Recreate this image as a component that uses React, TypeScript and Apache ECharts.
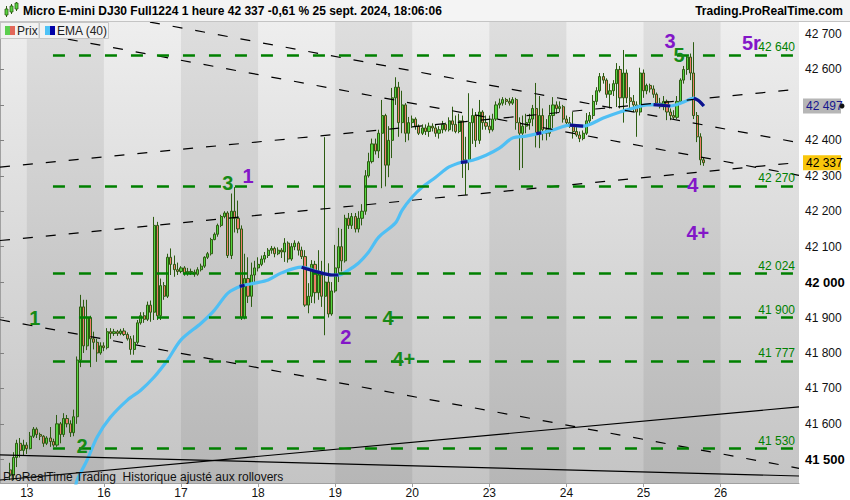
import React, { useEffect, useRef } from 'react';
import * as echarts from 'echarts';

const FONT = "'Liberation Sans', Arial, Helvetica, sans-serif";

// x axis: one unit = one hourly bar (23 bars per trading day)
const dayLabels = ['13', '16', '17', '18', '19', '20', '23', '24', '25', '26'];
const dayStarts = [8, 31, 54, 77, 100, 123, 146, 169, 192, 215];
const shadedDays = [[8, 31], [54, 77], [100, 123], [146, 169], [192, 215]];
const X_MIN = 0;
const X_MAX = 238.4;

// y axis (right)
const Y_MIN = 41433;
const Y_MAX = 42734;
const yTicks = [41500, 41600, 41700, 41800, 41900, 42000, 42100, 42200, 42300, 42400, 42500, 42600, 42700];
const boldTicks = [41500, 42000];

// candles: [bar, open, close, low, high]
const candles: number[][] = [
  [3, 41470, 41455, 41441, 41490], [4, 41455, 41505, 41441, 41520], [5, 41505, 41545, 41478, 41555],
  [6, 41545, 41525, 41505, 41560], [7, 41525, 41540, 41510, 41555], [8, 41540, 41530, 41515, 41548],
  [9, 41530, 41565, 41528, 41577], [10, 41565, 41585, 41560, 41591], [11, 41585, 41570, 41560, 41590],
  [12, 41570, 41565, 41554, 41575], [13, 41565, 41545, 41535, 41568], [14, 41545, 41560, 41540, 41565],
  [15, 41560, 41550, 41535, 41591], [16, 41550, 41540, 41535, 41558], [17, 41540, 41600, 41535, 41625],
  [18, 41600, 41570, 41545, 41605], [19, 41570, 41615, 41563, 41630], [20, 41615, 41600, 41590, 41625],
  [21, 41600, 41575, 41563, 41610], [22, 41575, 41620, 41565, 41640], [23, 41620, 41780, 41600, 41790],
  [24, 41780, 41930, 41760, 41964], [25, 41930, 41820, 41800, 41950], [26, 41820, 41900, 41808, 41950],
  [27, 41900, 41840, 41760, 41905], [28, 41840, 41830, 41810, 41860], [29, 41830, 41800, 41775, 41840],
  [30, 41800, 41820, 41795, 41830], [31, 41820, 41815, 41805, 41830], [32, 41815, 41860, 41810, 41870],
  [33, 41860, 41855, 41840, 41870], [34, 41855, 41860, 41848, 41868], [35, 41860, 41855, 41848, 41865],
  [36, 41855, 41862, 41850, 41868], [37, 41862, 41852, 41848, 41870], [38, 41852, 41840, 41835, 41858],
  [39, 41840, 41810, 41795, 41848], [40, 41810, 41830, 41795, 41850], [41, 41830, 41885, 41825, 41893],
  [42, 41885, 41905, 41880, 41915], [43, 41905, 41895, 41885, 41915], [44, 41895, 41935, 41890, 41945],
  [45, 41935, 41915, 41888, 41948], [46, 41915, 42160, 41893, 42184], [47, 42160, 41905, 41893, 42170],
  [48, 41905, 41990, 41893, 42010], [49, 41990, 41960, 41950, 42000], [50, 41960, 42070, 41955, 42080],
  [51, 42070, 42050, 42020, 42095], [52, 42050, 42035, 42015, 42075], [53, 42035, 42030, 42020, 42055],
  [54, 42030, 42040, 42025, 42045], [55, 42040, 42025, 42018, 42045], [56, 42025, 42030, 42018, 42040],
  [57, 42030, 42028, 42020, 42038], [58, 42028, 42022, 42015, 42035], [59, 42022, 42035, 42018, 42042],
  [60, 42035, 42045, 42030, 42052], [61, 42045, 42070, 42040, 42073], [62, 42070, 42080, 42065, 42085],
  [63, 42080, 42120, 42075, 42125], [64, 42120, 42135, 42118, 42140], [65, 42135, 42160, 42128, 42165],
  [66, 42160, 42185, 42155, 42190], [67, 42185, 42195, 42180, 42200], [68, 42195, 42075, 42068, 42200],
  [69, 42075, 42200, 42065, 42250], [70, 42200, 42180, 42140, 42268], [71, 42180, 42150, 42138, 42230],
  [72, 42150, 41900, 41893, 42160], [73, 41900, 42010, 41895, 42080], [74, 42010, 41960, 41941, 42070],
  [75, 41960, 42020, 41930, 42055], [76, 42020, 42040, 42000, 42060], [77, 42040, 42050, 42030, 42070],
  [78, 42050, 42065, 42045, 42075], [79, 42065, 42075, 42055, 42085], [80, 42075, 42090, 42068, 42096],
  [81, 42090, 42095, 42080, 42102], [82, 42095, 42080, 42070, 42100], [83, 42080, 42090, 42076, 42098],
  [84, 42090, 42085, 42068, 42096], [85, 42085, 42110, 42057, 42124], [86, 42110, 42065, 42055, 42115],
  [87, 42065, 42100, 42060, 42110], [88, 42100, 42110, 42090, 42118], [89, 42110, 42090, 42075, 42115],
  [90, 42090, 42072, 42065, 42100], [91, 42072, 41935, 41930, 42090], [92, 41935, 41960, 41912, 41997],
  [93, 41960, 42050, 41941, 42062], [94, 42050, 41970, 41940, 42060], [95, 41970, 42020, 41950, 42090],
  [96, 42020, 41960, 41930, 42060], [97, 41960, 42000, 41850, 42409], [98, 42000, 41910, 41900, 42053],
  [99, 41910, 41975, 41905, 42000], [100, 41975, 42040, 41970, 42105], [101, 42040, 42100, 42000, 42153],
  [102, 42100, 42060, 42030, 42150], [103, 42060, 42180, 42055, 42190], [104, 42180, 42160, 42150, 42195],
  [105, 42160, 42185, 42150, 42195], [106, 42185, 42150, 42140, 42195], [107, 42150, 42180, 42140, 42200],
  [108, 42180, 42200, 42160, 42220], [109, 42200, 42300, 42190, 42316], [110, 42300, 42340, 42295, 42365],
  [111, 42340, 42390, 42335, 42405], [112, 42390, 42370, 42360, 42405], [113, 42370, 42420, 42350, 42430],
  [114, 42420, 42470, 42265, 42514], [115, 42470, 42330, 42270, 42475], [116, 42330, 42400, 42296, 42440],
  [117, 42400, 42520, 42350, 42548], [118, 42520, 42550, 42500, 42578], [119, 42550, 42450, 42410, 42565],
  [120, 42450, 42500, 42420, 42540], [121, 42500, 42420, 42395, 42505], [122, 42420, 42450, 42400, 42466],
  [123, 42450, 42460, 42435, 42470], [124, 42460, 42440, 42430, 42465], [125, 42440, 42420, 42415, 42445],
  [126, 42420, 42435, 42415, 42445], [127, 42435, 42425, 42415, 42445], [128, 42425, 42440, 42410, 42450],
  [129, 42440, 42435, 42425, 42448], [130, 42435, 42420, 42410, 42445], [131, 42420, 42430, 42405, 42440],
  [132, 42430, 42445, 42420, 42455], [133, 42445, 42430, 42425, 42450], [134, 42430, 42455, 42425, 42465],
  [135, 42455, 42445, 42425, 42495], [136, 42445, 42425, 42420, 42470], [137, 42425, 42455, 42420, 42475],
  [138, 42455, 42336, 42294, 42470], [139, 42336, 42345, 42246, 42410], [140, 42345, 42450, 42316, 42533],
  [141, 42450, 42470, 42390, 42490], [142, 42470, 42400, 42381, 42480], [143, 42400, 42480, 42390, 42514],
  [144, 42480, 42450, 42430, 42485], [145, 42450, 42440, 42430, 42470], [146, 42440, 42430, 42420, 42470],
  [147, 42430, 42460, 42425, 42475], [148, 42460, 42500, 42455, 42510], [149, 42500, 42505, 42490, 42518],
  [150, 42505, 42515, 42498, 42522], [151, 42515, 42510, 42500, 42520], [152, 42510, 42505, 42498, 42520],
  [153, 42505, 42515, 42500, 42522], [154, 42515, 42450, 42430, 42520], [155, 42450, 42420, 42316, 42465],
  [156, 42420, 42440, 42322, 42470], [157, 42440, 42450, 42420, 42475], [158, 42450, 42460, 42430, 42475],
  [159, 42460, 42490, 42440, 42500], [160, 42490, 42420, 42380, 42562], [161, 42420, 42470, 42378, 42525],
  [162, 42470, 42430, 42400, 42490], [163, 42430, 42420, 42400, 42460], [164, 42420, 42470, 42410, 42500],
  [165, 42470, 42500, 42435, 42522], [166, 42500, 42490, 42475, 42510], [167, 42490, 42495, 42480, 42510],
  [168, 42495, 42460, 42450, 42500], [169, 42460, 42450, 42440, 42470], [170, 42450, 42440, 42435, 42466],
  [171, 42440, 42425, 42405, 42480], [172, 42425, 42415, 42410, 42440], [173, 42415, 42405, 42395, 42425],
  [174, 42405, 42420, 42400, 42428], [175, 42420, 42455, 42415, 42477], [176, 42455, 42470, 42445, 42480],
  [177, 42470, 42510, 42460, 42528], [178, 42510, 42540, 42500, 42550], [179, 42540, 42580, 42535, 42590],
  [180, 42580, 42570, 42560, 42590], [181, 42570, 42530, 42520, 42575], [182, 42530, 42540, 42490, 42560],
  [183, 42540, 42560, 42525, 42570], [184, 42560, 42600, 42494, 42618], [185, 42600, 42520, 42490, 42610],
  [186, 42520, 42590, 42450, 42655], [187, 42590, 42520, 42505, 42600], [188, 42520, 42510, 42490, 42550],
  [189, 42510, 42500, 42480, 42528], [190, 42500, 42480, 42410, 42510], [191, 42480, 42590, 42470, 42605],
  [192, 42590, 42540, 42520, 42600], [193, 42540, 42555, 42530, 42560], [194, 42555, 42545, 42535, 42560],
  [195, 42545, 42530, 42520, 42555], [196, 42530, 42505, 42500, 42535], [197, 42505, 42495, 42490, 42520],
  [198, 42495, 42510, 42485, 42525], [199, 42510, 42480, 42457, 42515], [200, 42480, 42470, 42457, 42490],
  [201, 42470, 42465, 42460, 42485], [202, 42465, 42510, 42460, 42525], [203, 42510, 42570, 42505, 42575],
  [204, 42570, 42600, 42560, 42610], [205, 42600, 42635, 42585, 42640], [206, 42635, 42590, 42570, 42645],
  [207, 42590, 42470, 42460, 42677], [208, 42470, 42410, 42395, 42480], [209, 42410, 42345, 42330, 42420],
  [210, 42345, 42337, 42328, 42352],
];

// EMA(40): [bar, value]
const emaLine: number[][] = [
  [22.5, 41420], [23, 41441], [26, 41498], [29, 41563], [33, 41619], [38, 41667], [42, 41695],
  [46, 41732], [50, 41780], [54, 41837], [60, 41884], [64, 41921], [68, 41969], [72, 41989],
  [76, 41997], [80, 42006], [84, 42026], [90, 42042], [95, 42028], [99, 42020], [101, 42020],
  [104, 42034], [107, 42054], [110, 42085], [113, 42127], [118, 42167], [120, 42203], [123, 42240],
  [126, 42268], [130, 42296], [134, 42325], [138, 42339], [141, 42344], [145, 42358], [149, 42378],
  [153, 42407], [157, 42412], [161, 42420], [165, 42429], [170, 42443], [174, 42440], [180, 42463],
  [185, 42480], [189, 42491], [193, 42500], [196, 42501], [200, 42497], [204, 42508], [207, 42519],
  [210, 42497],
];
// falling stretches of the EMA (dark blue)
const emaFalling: number[][][] = [
  [[71.5, 41988], [73, 41991]],
  [[90, 42042], [95, 42028], [99, 42020], [101, 42020]],
  [[137.5, 42338], [139.5, 42340]],
  [[160, 42419], [161.5, 42421]],
  [[170, 42443], [174, 42440]],
  [[195, 42501], [200, 42497]],
  [[207, 42519], [208.5, 42512], [210, 42497]],
];
const EMA_LAST = 42497;
const PRICE_LAST = 42337;

// horizontal support / resistance levels
const levels = [42640, 42270, 42024, 41900, 41777, 41530];
const levelStart = 15.8;

// trend lines: [[bar, value], [bar, value]]
const dashedTrends: number[][][] = [
  [[44.75, 42733.9], [238.4, 42393.3]],
  [[0, 42721.2], [238.4, 42301.3]],
  [[0, 41893.8], [238.4, 41474.5]],
  [[0, 42117.3], [238.4, 42337.7]],
  [[0, 42324.7], [238.4, 42544.5]],
];
const solidTrends: number[][][] = [
  [[0, 41512.1], [238.4, 41452.8]],
  [[0, 41441.5], [238.4, 41647.8]],
];

const GREEN = '#168a16';
const PURPLE = '#8316c8';
const waveText = ['1', '2', '3', '1', '2', '4', '4+', '3', '5', '5r', '4', '4+'];
const waveColor = [GREEN, GREEN, GREEN, PURPLE, PURPLE, GREEN, GREEN, PURPLE, GREEN, PURPLE, PURPLE, PURPLE];
const wavePos: number[][] = [
  [10.4, 41898], [24.5, 41537], [68, 42280], [74, 42299], [103.2, 41845], [115.8, 41898],
  [120.5, 41783], [199.9, 42680], [202.6, 42641], [224.2, 42676], [206.7, 42274], [208.2, 42138],
];

const fmt = (v: number) => `${Math.floor(v / 1000)} ${String(Math.round(v) % 1000).padStart(3, '0')}`;

export default function App() {
  const ref = useRef<HTMLDivElement>(null);
  useEffect(() => {
    document.body.style.margin = '0';
    if (!ref.current) return;
    const chart = echarts.init(ref.current, undefined, { renderer: 'svg' });

    const levelLines = levels.map((lv) => [
      {
        coord: [levelStart, lv],
        lineStyle: { color: '#008000', width: 2.5, type: [12, 14] },
        label: {
          show: true,
          position: 'insideEndTop',
          formatter: fmt(lv),
          color: '#008000',
          fontSize: 12,
          fontFamily: FONT,
          distance: [4, 2],
        },
      },
      { coord: [X_MAX, lv] },
    ]);
    const dashLines = dashedTrends.map((t) => [
      { coord: t[0], lineStyle: { color: '#000', width: 1.2, type: [10, 13] }, label: { show: false } },
      { coord: t[1] },
    ]);
    const solidLines = solidTrends.map((t) => [
      { coord: t[0], lineStyle: { color: '#000', width: 1.2, type: 'solid' }, label: { show: false } },
      { coord: t[1] },
    ]);

    const option: any = {
      animation: false,
      textStyle: { fontFamily: FONT },
      grid: {
        left: 0,
        right: 51,
        top: 22,
        bottom: 17,
        show: true,
        borderWidth: 0,
        backgroundColor: new echarts.graphic.LinearGradient(0, 0, 0, 1, [
          { offset: 0, color: '#eeeeee' },
          { offset: 1, color: '#c4c4c4' },
        ]),
      },
      xAxis: {
        type: 'value',
        min: X_MIN,
        max: X_MAX,
        splitLine: { show: false },
        axisLine: { show: true, lineStyle: { color: '#a0a0a0' } },
        axisTick: { show: true, customValues: dayStarts, length: 4, lineStyle: { color: '#a0a0a0' } },
        axisLabel: {
          customValues: dayStarts,
          formatter: (v: number) => dayLabels[dayStarts.indexOf(v)] ?? '',
          color: '#111',
          fontSize: 12,
          margin: 4,
        },
      },
      yAxis: {
        type: 'value',
        position: 'right',
        min: Y_MIN,
        max: Y_MAX,
        scale: true,
        splitLine: { show: false },
        axisLine: { show: true, lineStyle: { color: '#a0a0a0' } },
        axisTick: { show: true, customValues: yTicks, length: 4, lineStyle: { color: '#808080' } },
        axisLabel: {
          customValues: yTicks,
          formatter: (v: number) => (boldTicks.includes(v) ? `{b|${fmt(v)}}` : fmt(v)),
          rich: { b: { fontWeight: 'bold', fontSize: 13, color: '#000', fontFamily: FONT } },
          color: '#111',
          fontSize: 12,
          margin: 6,
        },
      },
      series: [
        {
          type: 'candlestick',
          data: candles,
          encode: { x: 0, y: [1, 2, 3, 4] },
          barWidth: 2.6,
          z: 3,
          itemStyle: {
            color: '#56d43f',
            color0: '#ee7d6b',
            borderColor: '#2d5c12',
            borderColor0: '#2d5c12',
            borderWidth: 1,
          },
          markArea: {
            silent: true,
            label: { show: false },
            itemStyle: { color: 'rgba(0,0,0,0.065)' },
            data: shadedDays.map((d) => [{ xAxis: d[0] }, { xAxis: d[1] }]),
          },
          markLine: {
            silent: true,
            symbol: ['none', 'none'],
            animation: false,
            data: [...solidLines, ...dashLines, ...levelLines],
          },
        },
        {
          type: 'line',
          data: emaLine,
          showSymbol: false,
          smooth: 0.3,
          z: 4,
          lineStyle: { color: '#4fbff4', width: 3.2 },
        },
        ...emaFalling.map((seg) => ({
          type: 'line',
          data: seg,
          showSymbol: false,
          smooth: 0.3,
          z: 5,
          lineStyle: { color: '#10108c', width: 3.2 },
        })),
        {
          type: 'scatter',
          symbolSize: 0,
          z: 6,
          itemStyle: { color: 'transparent', opacity: 1 },
          data: wavePos.map((p, i) => ({
            value: p,
            label: { formatter: waveText[i], color: waveColor[i], opacity: 1 },
          })),
          label: {
            show: true,
            position: 'inside',
            fontSize: 20,
            fontWeight: 'bold',
            fontFamily: FONT,
            opacity: 1,
          },
        },
      ],
    };
    chart.setOption(option);

    const yEma = chart.convertToPixel({ yAxisIndex: 0 }, EMA_LAST) as number;
    const yLast = chart.convertToPixel({ yAxisIndex: 0 }, PRICE_LAST) as number;

    const tag = (y: number, txt: string, fill: string, color: string) => [
      { type: 'rect', z: 100, shape: { x: 803, y: y - 7.5, width: 38, height: 15 }, style: { fill } },
      {
        type: 'text',
        z: 101,
        x: 806,
        y,
        style: { text: txt, fill: color, fontSize: 12, fontFamily: FONT, verticalAlign: 'middle' },
      },
    ];

    chart.setOption({
      graphic: [
        // title bar
        { type: 'rect', z: 90, shape: { x: 0, y: 0, width: 850, height: 21 }, style: { fill: '#f4f4f4' } },
        { type: 'line', z: 91, shape: { x1: 0, y1: 21.5, x2: 850, y2: 21.5 }, style: { stroke: '#c4c4c4', lineWidth: 1 } },
        { type: 'line', z: 92, shape: { x1: 6.5, y1: 6, x2: 6.5, y2: 17 }, style: { stroke: '#2d5c12', lineWidth: 1 } },
        { type: 'rect', z: 93, shape: { x: 5, y: 9, width: 3, height: 6 }, style: { fill: '#56d43f', stroke: '#2d5c12', lineWidth: 0.8 } },
        { type: 'line', z: 92, shape: { x1: 11.5, y1: 4, x2: 11.5, y2: 14 }, style: { stroke: '#2d5c12', lineWidth: 1 } },
        { type: 'rect', z: 93, shape: { x: 10, y: 6, width: 3, height: 6 }, style: { fill: '#56d43f', stroke: '#2d5c12', lineWidth: 0.8 } },
        { type: 'line', z: 92, shape: { x1: 16.5, y1: 2, x2: 16.5, y2: 11 }, style: { stroke: '#2d5c12', lineWidth: 1 } },
        { type: 'rect', z: 93, shape: { x: 15, y: 3, width: 3, height: 6 }, style: { fill: '#56d43f', stroke: '#2d5c12', lineWidth: 0.8 } },
        {
          type: 'text',
          z: 95,
          x: 23,
          y: 11,
          style: {
            text: 'Micro E-mini DJ30 Full1224 1 heure 42 337 -0,61 % 25 sept. 2024, 18:06:06',
            fill: '#000',
            fontSize: 12,
            fontWeight: 'bold',
            fontFamily: FONT,
            verticalAlign: 'middle',
          },
        },
        {
          type: 'text',
          z: 95,
          x: 843,
          y: 11,
          style: {
            text: 'Trading.ProRealTime.com',
            fill: '#000',
            fontSize: 12,
            fontWeight: 'bold',
            fontFamily: FONT,
            align: 'right',
            verticalAlign: 'middle',
          },
        },
        // legend boxes
        { type: 'rect', z: 90, shape: { x: 0.5, y: 22.5, width: 38.5, height: 16 }, style: { fill: '#f2f2f2', stroke: '#c6c6c6', lineWidth: 1 } },
        { type: 'rect', z: 91, shape: { x: 5, y: 26, width: 5, height: 9 }, style: { fill: '#5ccf4f' } },
        { type: 'rect', z: 91, shape: { x: 10, y: 26, width: 5, height: 9 }, style: { fill: '#e2675a' } },
        { type: 'text', z: 92, x: 17, y: 31, style: { text: 'Prix', fill: '#222', fontSize: 12, fontFamily: FONT, verticalAlign: 'middle' } },
        { type: 'rect', z: 90, shape: { x: 39.5, y: 22.5, width: 69, height: 16 }, style: { fill: '#f2f2f2', stroke: '#c6c6c6', lineWidth: 1 } },
        { type: 'rect', z: 91, shape: { x: 45, y: 26, width: 5, height: 9 }, style: { fill: '#4fc3f7' } },
        { type: 'rect', z: 91, shape: { x: 50, y: 26, width: 5, height: 9 }, style: { fill: '#0000a8' } },
        { type: 'text', z: 92, x: 57, y: 31, style: { text: 'EMA (40)', fill: '#222', fontSize: 12, fontFamily: FONT, verticalAlign: 'middle' } },
        // footer note
        {
          type: 'text',
          z: 95,
          x: 3,
          y: 477,
          style: {
            text: 'ProRealTime Trading  Historique ajusté aux rollovers',
            fill: '#111',
            fontSize: 12,
            fontFamily: FONT,
            verticalAlign: 'middle',
          },
        },
        // last-value tags
        ...tag(yEma, fmt(EMA_LAST), '#b6b6b6', '#16168e'),
        { type: 'circle', z: 100, shape: { cx: 842, cy: yEma, r: 2.5 }, style: { fill: '#111' } },
        ...tag(yLast, fmt(PRICE_LAST), '#f9c70c', '#000'),
      ],
    });

    return () => chart.dispose();
  }, []);
  return <div ref={ref} style={{ width: 850, height: 500 }} />;
}
